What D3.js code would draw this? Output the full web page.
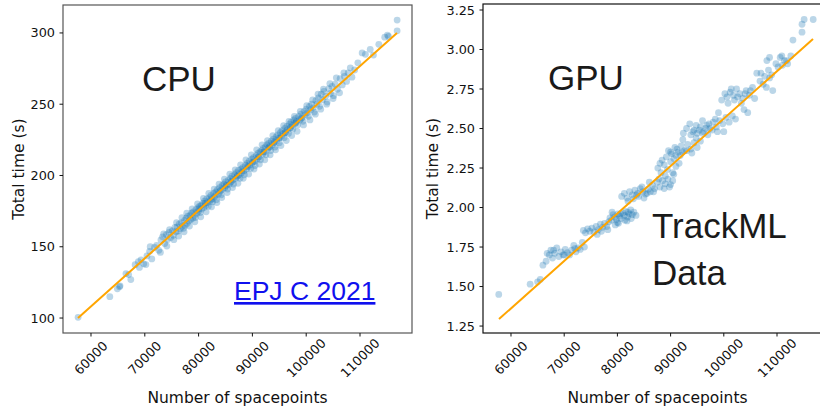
<html>
<head>
<style>
  body { margin: 0; background: #fff; }
  svg { display: block; }
</style>
</head>
<body>
  <div id = 'chart'></div>
  <script src = 'https://d3js.org/d3.v7.min.js' charset = 'utf-8'></script>
  <script>
  // [spacepoints, total time (s)]
  var cpuPoints = [
    [57600,100.5],[63500,115.0],[64900,120.5],[65300,122.0],[65400,122.6],[66500,131.2],[67000,130.5],[67400,127.0],
    [68200,137.4],[68800,139.5],[69000,135.5],[69300,140.8],[69800,138.0],[70400,143.6],[70900,146.8],[71300,141.5],
    [71800,149.5],[72200,151.0],[72600,147.5],[73000,154.8],[73300,157.0],[73700,152.2],[74000,158.5],[74200,155.0],
    [74500,160.0],[74800,156.5],[75100,161.2],[75300,158.0],[75600,163.5],[75800,160.5],[76000,164.0],[76200,161.0],
    [76400,166.0],[76600,162.5],[76800,167.0],[77000,164.5],[77200,163.0],[77400,168.5],[77500,165.0],[77700,170.0],
    [77900,166.5],[78000,171.5],[78200,168.0],[78400,172.0],[78500,169.0],[78700,173.5],[78900,170.0],[79000,174.5],
    [79200,172.0],[79400,170.5],[79500,176.0],[79700,173.5],[79900,177.5],[80000,175.0],[80200,178.5],[80300,174.0],
    [80500,179.0],[80600,176.5],[80800,180.5],[81000,177.5],[81100,182.0],[81300,179.0],[81500,183.5],[81600,181.0],
    [81800,178.5],[82000,184.5],[82100,182.0],[82300,186.0],[82500,183.5],[82600,181.5],[82800,187.5],[83000,185.0],
    [83200,188.5],[83300,183.0],[83500,190.0],[83700,187.0],[83900,191.5],[84000,189.0],[84200,186.5],[84400,193.0],
    [84500,190.5],[84700,194.0],[84900,191.5],[85000,195.5],[85200,193.0],[85400,190.5],[85500,196.5],[85700,194.0],
    [85900,198.0],[86000,195.5],[86200,199.5],[86400,197.0],[86500,194.0],[86700,200.5],[86900,198.0],[87000,202.0],
    [87200,199.5],[87400,203.5],[87500,200.5],[87700,198.0],[87900,204.5],[88000,202.0],[88200,205.5],[88400,203.0],
    [88500,200.5],[88700,207.0],[88900,204.5],[89000,208.5],[89200,206.0],[89400,210.0],[89500,207.5],[89700,205.0],
    [89900,211.5],[90000,209.0],[90200,212.5],[90400,210.0],[90500,207.0],[90700,214.0],[90900,211.5],[91000,215.5],
    [91200,213.0],[91400,216.5],[91500,211.0],[91700,217.5],[91900,215.0],[92000,219.0],[92200,216.5],[92400,220.0],
    [92500,214.5],[92700,221.5],[92900,219.0],[93000,222.5],[93200,220.0],[93400,217.5],[93500,224.0],[93700,221.5],
    [93900,225.5],[94000,223.0],[94200,220.0],[94400,227.0],[94500,224.5],[94700,228.5],[94900,226.0],[95000,223.0],
    [95200,230.0],[95400,227.5],[95500,231.5],[95700,229.0],[95900,226.5],[96000,233.0],[96200,230.5],[96400,234.5],
    [96500,232.0],[96700,229.5],[96900,236.0],[97000,233.5],[97200,237.5],[97400,235.0],[97500,232.5],[97700,239.0],
    [97900,236.5],[98000,240.0],[98200,238.0],[98400,235.5],[98600,241.5],[98800,239.0],[99000,243.0],[99200,240.5],
    [99400,238.0],[99600,245.0],[99800,242.5],[100000,246.5],[100200,244.0],[100400,241.5],[100600,248.5],[100800,246.0],
    [101000,250.0],[101300,247.5],[101500,244.5],[101800,252.5],[102000,250.0],[102300,254.5],[102500,248.5],[102800,257.0],
    [103000,253.0],[103300,259.0],[103600,255.5],[103900,251.5],[104200,261.0],[104500,257.5],[104800,262.5],[105100,256.0],
    [105400,264.0],[105800,260.5],[106300,268.0],[106700,263.5],[107100,269.5],[107500,266.0],[107800,272.0],[108200,275.5],
    [108500,269.0],[109000,274.0],[109600,279.0],[110400,286.0],[111000,285.0],[111900,288.5],[112500,284.5],[113500,292.0],
    [114600,297.0],[115100,298.5],[115300,297.5],[116900,301.5],[116900,309.0],
    [70200,137.5],[71000,150.0],[72900,146.0],[73500,159.0],[74100,150.5],[74600,162.0],[75400,155.0],[75900,167.0],
    [76300,157.5],[76900,170.5],[77300,160.5],[77800,173.5],[78300,164.5],[78800,176.5],[79300,167.5],[79800,180.0],
    [80400,171.0],[80900,184.0],[81400,174.5],[81900,187.5],[82400,178.0],[82900,190.5],[83400,181.0],[83800,194.0],
    [84300,184.5],[84800,197.5],[85300,188.0],[85800,201.0],[86300,191.5],[86800,204.0],[87300,194.5],[87800,207.5],
    [88300,198.0],[88800,211.0],[89300,201.0],[89800,214.5],[90300,204.5],[90800,218.0],[91300,208.0],[91800,221.5],
    [92300,211.0],[92800,224.5],[93300,214.5],[93800,228.0],[94300,218.0],[94800,231.5],[95300,221.0],[95800,235.0],
    [96300,224.5],[96800,238.0],[97300,228.0],[97800,241.5],[98300,231.0],[98900,245.0],[99500,235.5],[100100,249.0],
    [100700,239.0],[101200,253.0],[101700,243.0],[102200,257.0],[102700,246.5],[103200,260.5],[103800,250.0],[104400,264.5],
    [105000,254.0],[105600,268.5],[106200,258.0],[107000,272.0],
    [80100,176.5],[81200,180.5],[82200,183.0],[83100,186.0],[84100,189.5],[85100,193.0],[86100,196.0],[87100,199.5],
    [88100,203.0],[89100,206.5],[90100,209.5],[91100,213.0],[92100,216.5],[93100,220.0],[94100,223.5],[95100,226.5],
    [96100,230.0],[97100,233.5],[98100,237.0],[99100,240.0]
  ];
  var gpuPoints = [
    [57700,1.45],[63600,1.515],[65000,1.53],[65500,1.545],[66000,1.635],[66600,1.66],[67200,1.70],[67500,1.73],
    [67800,1.68],[68200,1.71],[68600,1.745],[69000,1.69],[69400,1.72],[69800,1.70],[70200,1.735],[70600,1.715],
    [71000,1.70],[71400,1.73],[71800,1.76],[72200,1.72],[72600,1.745],[73000,1.735],[73400,1.78],[73800,1.75],
    [73600,1.855],[74000,1.84],[74400,1.865],[74800,1.85],[75200,1.87],[75600,1.845],[76000,1.88],[76400,1.86],
    [76800,1.895],[77200,1.875],[77600,1.90],[78000,1.88],[78400,1.91],[78600,1.935],[78900,1.92],[79200,1.955],
    [79500,1.94],[79800,1.925],[80100,1.96],[80400,1.945],[80700,1.93],[81000,1.965],[81300,1.95],[81600,1.975],
    [81900,1.94],[82200,1.96],[82500,1.985],[82800,1.955],[83100,1.97],[79000,1.97],[80000,1.905],[81800,1.915],
    [82600,1.93],[83500,1.95],[80800,2.07],[81300,2.09],[81800,2.06],[82300,2.10],[82800,2.08],[83300,2.11],
    [83800,2.09],[84300,2.12],[84800,2.10],[85300,2.085],[85800,2.115],[86200,2.10],[82000,2.04],[83000,2.055],
    [84000,2.07],[85000,2.06],[86600,2.14],[87000,2.12],[87500,2.16],[88000,2.13],[88500,2.17],[89000,2.15],
    [89500,2.18],[90000,2.145],[90400,2.17],[86000,2.16],[88800,2.12],[87600,2.25],[88200,2.22],[88800,2.27],
    [89400,2.24],[90000,2.29],[90600,2.21],[91000,2.26],[89000,2.20],[89600,2.36],[90200,2.34],[90800,2.38],
    [91400,2.35],[92000,2.39],[92600,2.36],[93200,2.40],[93800,2.37],[94400,2.41],[95000,2.38],[95600,2.42],
    [91000,2.33],[92300,2.43],[94000,2.345],[93000,2.36],[93800,2.46],[94400,2.49],[95000,2.47],[95600,2.51],
    [96200,2.48],[96800,2.52],[97400,2.50],[98000,2.54],[98600,2.51],[99200,2.55],[99800,2.53],[100400,2.57],
    [101000,2.54],[101600,2.58],[102200,2.56],[97000,2.46],[99000,2.60],[100000,2.48],[96000,2.55],[94800,2.44],
    [100600,2.70],[101200,2.73],[101800,2.71],[102400,2.75],[103000,2.72],[103600,2.69],[104200,2.74],[104800,2.71],
    [105400,2.76],[102000,2.68],[103300,2.66],[103800,2.62],[104500,2.60],[106200,2.85],[106800,2.80],[107400,2.78],
    [108000,2.76],[108600,2.82],[109200,2.74],[107000,2.85],[107700,2.83],[108100,2.93],[108600,2.95],[109800,2.91],
    [110600,2.95],[110900,2.96],[111400,2.93],[111800,2.93],[112000,2.91],[112600,2.96],[113000,3.06],[114700,3.11],
    [114700,3.16],[115100,3.19],[116800,3.19],
    [92400,2.47],[93000,2.50],[93600,2.53],[94200,2.48],[94800,2.52],[95400,2.49],[96000,2.47],[96600,2.50],
    [97200,2.53],[97800,2.49],[98400,2.56],[98800,2.48],[88400,2.30],[89200,2.32],[90000,2.35],[90600,2.31],
    [91200,2.37],[91800,2.33],[92200,2.35],[88000,2.28],[99600,2.68],[100200,2.72],[100800,2.66],[101400,2.75],
    [102600,2.70],[104000,2.72],[105000,2.74],[105800,2.69],[80200,1.90],[80600,1.96],[81400,1.92],[82000,1.97],
    [79600,1.89],[78200,1.86],[77000,1.85],[76200,1.83],[84600,2.13],[85600,2.09],[83600,2.08],[86800,2.10],
    [87800,2.18],[89800,2.13],[91600,2.28],[90400,2.22],[70000,1.70],[68000,1.73],[72000,1.74],[66800,1.71],
    [108400,2.87],[109000,2.84],[110200,2.89],[111000,2.90]
  ];
  var cpuFit = [[57584,100],[116877,300]];
  var gpuFit = [[57744,1.294],[116767,3.066]];
  var xTicks = [60000,70000,80000,90000,100000,110000];
  var cpuTicks = [100,150,200,250,300];
  var gpuTicks = [1.25,1.50,1.75,2.00,2.25,2.50,2.75,3.00,3.25];

  var width = 820, height = 409;
  var svg = d3.select('#chart').append('svg')
      .attr('width', width)
      .attr('height', height);

  function drawPanel(opt){
    var x = d3.scaleLinear().domain(opt.xDomain).range([opt.left, opt.right]);
    var y = d3.scaleLinear().domain(opt.yDomain).range([opt.bottom, opt.top]);
    var g = svg.append('g');

    g.selectAll('circle')
      .data(opt.points)
      .enter()
      .append('circle')
      .attr('cx', function(d){ return x(d[0]); })
      .attr('cy', function(d){ return y(d[1]); })
      .attr('r', 3.4)
      .attr('fill', '#1f77b4')
      .attr('fill-opacity', 0.3);

    g.append('path')
      .datum(opt.fit)
      .attr('d', d3.line().x(function(d){ return x(d[0]); }).y(function(d){ return y(d[1]); }))
      .attr('stroke', '#ffa500')
      .attr('stroke-width', 2)
      .attr('fill', 'none');

    g.append('rect')
      .attr('x', opt.left).attr('y', opt.top)
      .attr('width', opt.right - opt.left).attr('height', opt.bottom - opt.top)
      .attr('fill', 'none')
      .attr('stroke', opt.spine)
      .attr('stroke-width', 1.2);

    // x ticks, labels rotated 45deg, bbox centred under the tick
    xTicks.forEach(function(t){
      g.append('line')
        .attr('x1', x(t)).attr('x2', x(t))
        .attr('y1', opt.bottom).attr('y2', opt.bottom + 3.5)
        .attr('stroke', '#111');
      g.append('text')
        .attr('transform', 'translate(' + x(t) + ',' + (opt.bottom + 25) + ') rotate(-45)')
        .attr('text-anchor', 'middle')
        .attr('dominant-baseline', 'central')
        .attr('font-family', 'DejaVu Sans')
        .attr('font-size', 12.8)
        .attr('fill', '#111')
        .text(t);
    });

    opt.yTicks.forEach(function(t){
      g.append('line')
        .attr('x1', opt.left - 3.5).attr('x2', opt.left)
        .attr('y1', y(t)).attr('y2', y(t))
        .attr('stroke', '#111');
      g.append('text')
        .attr('x', opt.left - 8)
        .attr('y', y(t))
        .attr('text-anchor', 'end')
        .attr('dominant-baseline', 'central')
        .attr('font-family', 'DejaVu Sans')
        .attr('font-size', 12.8)
        .attr('fill', '#111')
        .text(opt.yFormat(t));
    });

    g.append('text')
      .attr('x', (opt.left + Math.min(opt.right, 412 + opt.left - 63)) / 2)
      .attr('y', 403)
      .attr('text-anchor', 'middle')
      .attr('font-family', 'DejaVu Sans')
      .attr('font-size', 15.5)
      .attr('fill', '#111')
      .text('Number of spacepoints');

    g.append('text')
      .attr('transform', 'translate(' + opt.yLabelX + ',' + ((opt.top + opt.bottom) / 2) + ') rotate(-90)')
      .attr('text-anchor', 'middle')
      .attr('dominant-baseline', 'central')
      .attr('font-family', 'DejaVu Sans')
      .attr('font-size', 15.5)
      .attr('fill', '#111')
      .text('Total time (s)');
  }

  drawPanel({
    points: cpuPoints, fit: cpuFit, yTicks: cpuTicks,
    xDomain: [54796, 119665], yDomain: [89.5, 319.6],
    left: 63, right: 412, top: 5, bottom: 333,
    spine: '#555', yLabelX: 19,
    yFormat: function(d){ return d; }
  });

  drawPanel({
    points: gpuPoints, fit: gpuFit, yTicks: gpuTicks,
    xDomain: [54737, 120338], yDomain: [1.206, 3.288],
    left: 483, right: 832, top: 4, bottom: 333,
    spine: '#111', yLabelX: 433,
    yFormat: d3.format('.2f')
  });

  // overlay annotations
  var big = [
    {t: 'CPU', x: 142, y: 91},
    {t: 'GPU', x: 548, y: 90},
    {t: 'TrackML', x: 652, y: 238},
    {t: 'Data', x: 652, y: 285}
  ];
  svg.selectAll('text.big')
    .data(big)
    .enter()
    .append('text')
    .attr('class', 'big')
    .attr('x', function(d){ return d.x; })
    .attr('y', function(d){ return d.y; })
    .attr('font-family', 'Liberation Sans, Arial, sans-serif')
    .attr('font-size', 35)
    .attr('fill', '#1a1a1a')
    .text(function(d){ return d.t; });

  svg.append('text')
    .attr('x', 234)
    .attr('y', 300)
    .attr('font-family', 'Liberation Sans, Arial, sans-serif')
    .attr('font-size', 26.5)
    .attr('fill', '#1010ee')
    .attr('text-decoration', 'underline')
    .text('EPJ C 2021');
  </script>
</body>
</html>
